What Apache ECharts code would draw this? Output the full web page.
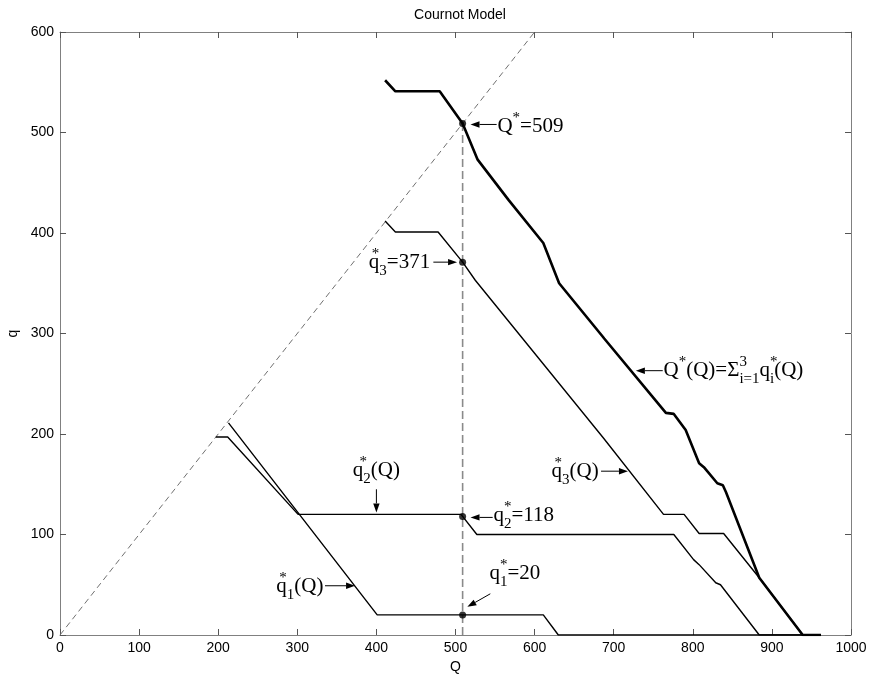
<!DOCTYPE html>
<html>
<head>
<meta charset="utf-8">
<title>Cournot Model</title>
<script src="https://cdn.jsdelivr.net/npm/echarts@6/dist/echarts.min.js"></script>
<style>
  html, body { margin: 0; padding: 0; background: #fff; }
  #chart { width: 871px; height: 675px; }
</style>
</head>
<body>
<div id="chart"></div>
<script>
// Best responses q_i*(Q) of three firms and their sum, against total output Q.
const q1Q = [213, 401, 611, 630, 962];
const q1V = [211, 20, 20, 0, 0];

const q2Q = [197, 212, 301, 507, 527, 776, 801, 808, 829, 835, 884, 962];
const q2V = [197, 197, 120, 120, 100, 100, 75, 70, 52, 50, 0, 0];

const q3Q = [411, 424, 478, 509, 525, 687, 763, 789, 808, 839, 886, 939, 962];
const q3V = [412, 401, 401, 371, 353, 196, 120, 120, 101, 101, 55, 0, 0];

const totalQ = [411, 424, 480, 509, 528, 567, 611, 631, 686, 688, 766, 776, 791, 808, 814, 831, 838, 842, 884, 939, 962];
const totalV = [552, 541, 541, 509, 473, 433, 390, 350, 297, 295, 221, 220, 204, 171, 167, 151, 149, 142, 57, 0, 0];

// 45-degree line q = Q
const diagQ = [0, 600];
const diagV = [0, 600];

// Equilibrium: total output and each firm's share
const eqQ = 509;
const eqV = [509, 371, 118, 20];

const xTickValues = [0, 100, 200, 300, 400, 500, 600, 700, 800, 900, 1000];
const yTickValues = [0, 100, 200, 300, 400, 500, 600];

const pair = (xs, ys) => xs.map((x, i) => [x, ys[i]]);

const chart = echarts.init(document.getElementById('chart'), null, { renderer: 'canvas' });

const sans = '"Liberation Sans", Arial, sans-serif';
const serif = '"Liberation Serif", "Times New Roman", serif';
const axisGray = '#808080';

function mainAxisCommon() {
  return {
    type: 'value',
    axisLine: { show: true, onZero: false, lineStyle: { color: axisGray, width: 1 } },
    axisTick: { show: true, inside: true, length: 6, lineStyle: { color: '#555', width: 1 } },
    splitLine: { show: false },
    axisLabel: { color: '#000', fontSize: 14, fontFamily: sans, margin: 6, formatter: v => String(v) }
  };
}

const option = {
  animation: false,
  backgroundColor: '#fff',
  title: {
    text: 'Cournot Model',
    left: 455,
    top: 3,
    textAlign: 'center',
    textStyle: { color: '#000', fontSize: 14, fontWeight: 'normal', fontFamily: sans }
  },
  grid: { left: 60, right: 20, top: 32, bottom: 40, containLabel: false, outerBoundsMode: 'none' },
  xAxis: [
    Object.assign(mainAxisCommon(), {
      position: 'bottom', min: xTickValues[0], max: xTickValues[xTickValues.length - 1], interval: 100,
      name: 'Q', nameLocation: 'middle', nameGap: 21,
      nameTextStyle: { color: '#000', fontSize: 14, fontFamily: sans }
    }),
    Object.assign(mainAxisCommon(), {
      position: 'top', min: xTickValues[0], max: xTickValues[xTickValues.length - 1], interval: 100,
      axisLabel: { show: false }
    })
  ],
  yAxis: [
    Object.assign(mainAxisCommon(), {
      position: 'left', min: yTickValues[0], max: yTickValues[yTickValues.length - 1], interval: 100,
      name: 'q', nameLocation: 'middle', nameGap: 37, nameRotate: 90,
      nameTextStyle: { color: '#000', fontSize: 14, fontFamily: sans }
    }),
    Object.assign(mainAxisCommon(), {
      position: 'right', min: yTickValues[0], max: yTickValues[yTickValues.length - 1], interval: 100,
      axisLabel: { show: false }
    })
  ],
  series: [
    {
      name: 'q = Q', type: 'line', data: pair(diagQ, diagV), showSymbol: false, silent: true,
      lineStyle: { color: '#707070', width: 1, type: [6, 4] }
    },
    {
      name: 'Q* marker', type: 'line', data: [[eqQ, 0], [eqQ, eqV[0]]], showSymbol: false, silent: true,
      lineStyle: { color: '#8a8a8a', width: 1.6, type: [8, 4] }
    },
    {
      name: 'q1*(Q)', type: 'line', data: pair(q1Q, q1V), showSymbol: false,
      lineStyle: { color: '#000', width: 1.4 }
    },
    {
      name: 'q2*(Q)', type: 'line', data: pair(q2Q, q2V), showSymbol: false,
      lineStyle: { color: '#000', width: 1.4 }
    },
    {
      name: 'q3*(Q)', type: 'line', data: pair(q3Q, q3V), showSymbol: false,
      lineStyle: { color: '#000', width: 1.4 }
    },
    {
      name: 'Q*(Q)', type: 'line', data: pair(totalQ, totalV), showSymbol: false,
      lineStyle: { color: '#000', width: 2.6 }
    },
    {
      name: 'equilibrium', type: 'scatter', data: eqV.map(v => [eqQ, v]),
      symbol: 'circle', symbolSize: 7, itemStyle: { color: '#000' }, z: 5
    }
  ]
};

chart.setOption(option);

// Annotation text in serif with super/subscripts
const rich = {
  b:    { font: '21px ' + serif, lineHeight: 32 },
  sup:  { font: '15px ' + serif, lineHeight: 12, verticalAlign: 'top' },
  supz: { font: '15px ' + serif, lineHeight: 12, verticalAlign: 'top', width: 0 },
  sub:  { font: '15px ' + serif, lineHeight: 12, verticalAlign: 'bottom' }
};

// Labels anchored in data space: [Q, q], horizontal alignment of the anchor
const notes = [
  { text: '{b|Q}{sup|*}{b|=509}', at: [553, 506], align: 'left' },
  { text: '{b|q}{supz|*}{sub|3}{b|=371}', at: [468, 371], align: 'right' },
  { text: '{b|q}{supz|*}{sub|2}{b|=118}', at: [548, 119], align: 'left' },
  { text: '{b|q}{supz|*}{sub|1}{b|=20}', at: [543, 61], align: 'left' },
  { text: '{b|q}{supz|*}{sub|2}{b|(Q)}', at: [400, 164], align: 'center' },
  { text: '{b|q}{supz|*}{sub|1}{b|(Q)}', at: [333, 48], align: 'right' },
  { text: '{b|q}{supz|*}{sub|3}{b|(Q)}', at: [681, 163], align: 'right' },
  { text: '{b|Q}{sup|*}{b|(Q)=Σ}{supz|3}{sub|i=1}{b|q}{supz|*}{sub|i}{b|(Q)}', at: [763, 263], align: 'left' }
];

// Arrows: tail [Q, q] -> head [Q, q]
const arrows = [
  [[552, 508], [519, 508]],
  [[472, 371], [502, 371]],
  [[547, 117], [519, 117]],
  [[544, 41], [515, 28]],
  [[400, 145], [400, 122]],
  [[335, 49], [373, 49]],
  [[684, 163], [718, 163]],
  [[762, 263], [728, 263]]
];

function buildGraphics() {
  const toPx = p => chart.convertToPixel({ seriesIndex: 2 }, p);
  const elements = [];
  notes.forEach(n => {
    const p = toPx(n.at);
    elements.push({
      type: 'text', x: p[0], y: p[1], z: 100, silent: true,
      style: {
        text: n.text, rich: rich, fill: '#000',
        textAlign: n.align, textVerticalAlign: 'middle'
      }
    });
  });
  const headLen = 9, headHalf = 3.2;
  arrows.forEach(a => {
    const t = toPx(a[0]), h = toPx(a[1]);
    const dx = h[0] - t[0], dy = h[1] - t[1];
    const len = Math.sqrt(dx * dx + dy * dy);
    const ux = dx / len, uy = dy / len;
    const bx = h[0] - ux * headLen, by = h[1] - uy * headLen;
    elements.push({
      type: 'line', z: 100, silent: true,
      shape: { x1: t[0], y1: t[1], x2: bx, y2: by },
      style: { stroke: '#000', lineWidth: 1 }
    });
    elements.push({
      type: 'polygon', z: 100, silent: true,
      shape: { points: [[h[0], h[1]], [bx - uy * headHalf, by + ux * headHalf], [bx + uy * headHalf, by - ux * headHalf]] },
      style: { fill: '#000' }
    });
  });
  return elements;
}

chart.setOption({ graphic: { elements: buildGraphics() } });
</script>
</body>
</html>
